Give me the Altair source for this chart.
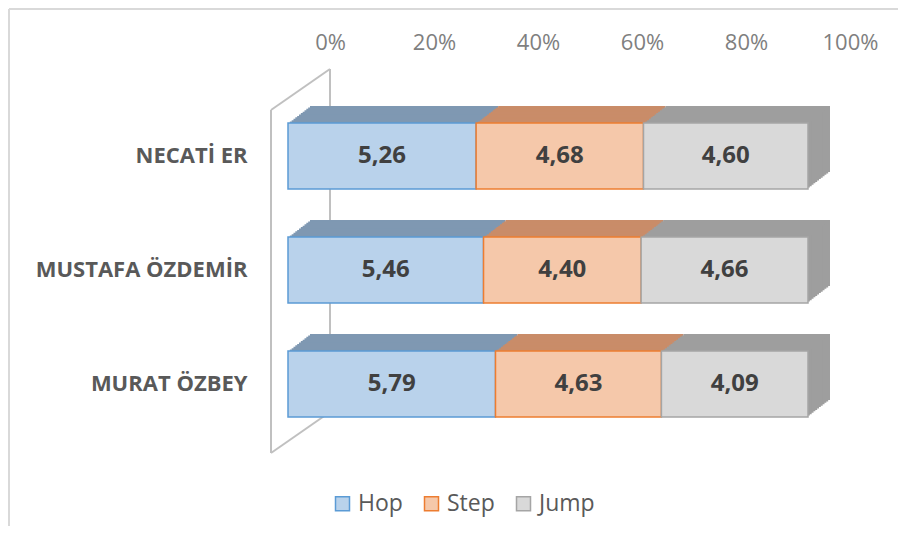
import altair as alt
import pandas as pd

athletes = ["NECATİ ER", "MUSTAFA ÖZDEMİR", "MURAT ÖZBEY"]
phases = ["Hop", "Step", "Jump"]
hop = [5.26, 5.46, 5.79]
step = [4.68, 4.40, 4.63]
jump = [4.60, 4.66, 4.09]
tick_values = [0, 0.2, 0.4, 0.6, 0.8, 1.0]

rows = []
for i, a in enumerate(athletes):
    for j, (p, v) in enumerate(zip(phases, [hop[i], step[i], jump[i]])):
        rows.append({"athlete": a, "phase": p, "value": v, "order": j})
df = pd.DataFrame(rows)

FRONT = ["#b9d2eb", "#f5c8aa", "#d9d9d9"]
EDGE = ["#5b9bd5", "#ed7d31", "#a5a5a5"]
TOP = ["#7f98b2", "#c98c69", "#9e9e9e"]
FONT = "Open Sans"

W, H = 520, 342
DX, DY, STEPS = 22, 17, 12

base = alt.Chart(df).transform_joinaggregate(
    total="sum(value)", groupby=["athlete"]
).transform_window(
    cum="sum(value)", sort=[alt.SortField("order", order="ascending")],
    groupby=["athlete"], frame=[None, 0]
).transform_calculate(
    start="(datum.cum - datum.value) / datum.total",
    end="datum.cum / datum.total",
    mid="(datum.cum - datum.value / 2) / datum.total",
    label="replace(format(datum.value, '.2f'), '.', ',')",
)

xscale = alt.Scale(domain=[0, 1], nice=False)
yscale = alt.Scale(domain=athletes, paddingInner=0.421, paddingOuter=0.2105)

xaxis = alt.Axis(orient="top", format="%", values=tick_values, title=None,
                 grid=False, domain=False, ticks=False, tickSize=0,
                 labelFlush=False, labelBound=False, labelOverlap=False,
                 labelOffset=42, labelPadding=45, labelFont=FONT,
                 labelFontSize=22, labelColor="#7f7f7f")
yaxis = alt.Axis(title=None, domain=False, ticks=False, tickSize=0,
                 labelPadding=41, labelFont=FONT, labelFontSize=22,
                 labelFontWeight="bold", labelColor="#595959", labelLimit=400)

X = alt.X("start:Q", scale=xscale, axis=xaxis)
Y = alt.Y("athlete:N", scale=yscale, sort=athletes, axis=yaxis)

top_fill = alt.FillValue(TOP[2], condition=[
    {"test": "datum.phase === 'Hop'", "value": TOP[0]},
    {"test": "datum.phase === 'Step'", "value": TOP[1]},
])

# 3D extrusion (top + side faces), drawn from back to front
depth_layers = []
for k in range(STEPS, 0, -1):
    ox = DX * k / STEPS
    oy = -DY * k / STEPS
    depth_layers.append(
        base.mark_bar(xOffset=ox, x2Offset=ox, yOffset=oy, y2Offset=oy).encode(
            x=X, x2="end:Q", y=Y, fill=top_fill
        )
    )

leg = alt.Legend(title=None, orient="none", legendX=43, legendY=393,
                 direction="horizontal", symbolType="square", symbolSize=196,
                 symbolStrokeWidth=1.5, labelFont=FONT, labelFontSize=23,
                 labelColor="#595959", columnPadding=17, labelOffset=4)

front = base.mark_bar(strokeWidth=1.5).encode(
    x=X, x2="end:Q", y=Y,
    fill=alt.Fill("phase:N", scale=alt.Scale(domain=phases, range=FRONT), legend=leg),
    stroke=alt.Stroke("phase:N", scale=alt.Scale(domain=phases, range=EDGE), legend=leg),
)

labels = base.mark_text(font=FONT, fontWeight="bold", fontSize=24, color="#404040").encode(
    x=alt.X("mid:Q", scale=xscale, axis=xaxis), y=Y, text="label:N"
)

one = pd.DataFrame({"k": [0]})


def line(x1, y1, x2, y2, color="#c0c0c0", width=2):
    return alt.Chart(one).mark_rule(color=color, strokeWidth=width).encode(
        x=alt.value(x1), y=alt.value(y1), x2=alt.value(x2), y2=alt.value(y2)
    )


walls = [
    line(42, -30, 42, 313),
    line(-17, 11, -17, 354),
    line(-17, 11, 42, -30),
    line(-17, 354, 42, 313),
]
border = [
    line(-279, -90, 610, -90, color="#d9d9d9"),
    line(-279, -90, -279, 427, color="#d9d9d9"),
]

chart = alt.layer(*border, *walls, *depth_layers, front, labels).properties(
    width=W, height=H,
    autosize=alt.AutoSizeParams(type="none"),
    padding={"left": 280, "top": 91, "right": 90, "bottom": 85},
).configure_view(stroke=None)

chart.save("out.html", embed_options={"renderer": "svg", "actions": False})
